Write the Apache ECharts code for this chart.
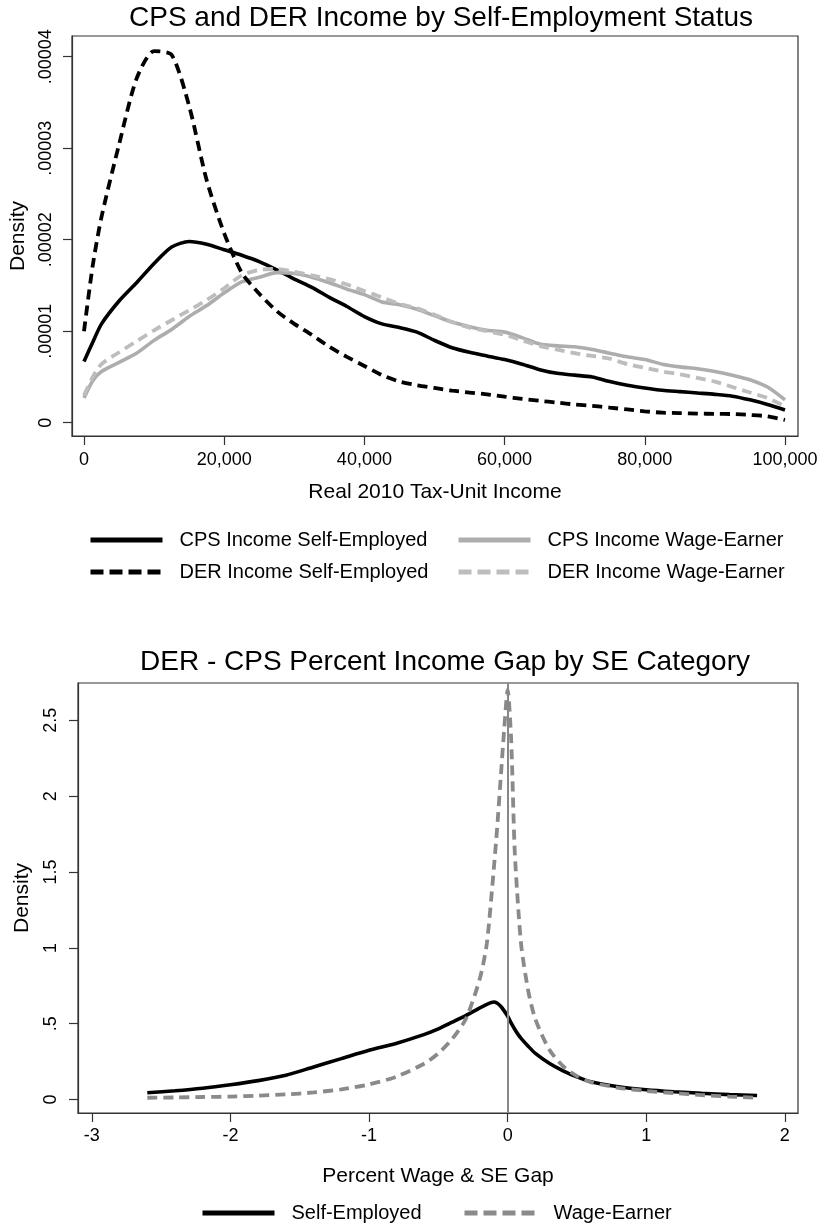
<!DOCTYPE html>
<html>
<head>
<meta charset="utf-8">
<script src="https://cdn.jsdelivr.net/npm/echarts@6/dist/echarts.min.js"></script>
<style>
html,body{margin:0;padding:0;background:#fff;}
#chart{width:827px;height:1230px;}
</style>
</head>
<body>
<div id="chart"></div>
<script>
// ---------- Top panel data ----------
const income = [0,1250,2500,5000,7500,10000,12500,15000,17500,20000,22500,25000,27500,30000,32500,35000,37500,40000,42500,45000,47500,50000,52500,55000,57500,60000,62500,65000,67500,70000,72500,75000,77500,80000,82500,85000,87500,90000,92500,95000,97500,100000];
const cpsSE = [0.67e-5,0.88e-5,1.08e-5,1.33e-5,1.53e-5,1.74e-5,1.92e-5,1.98e-5,1.95e-5,1.89e-5,1.83e-5,1.76e-5,1.67e-5,1.57e-5,1.48e-5,1.37e-5,1.27e-5,1.16e-5,1.08e-5,1.04e-5,0.99e-5,0.90e-5,0.82e-5,0.77e-5,0.73e-5,0.69e-5,0.64e-5,0.58e-5,0.54e-5,0.52e-5,0.50e-5,0.45e-5,0.41e-5,0.38e-5,0.355e-5,0.34e-5,0.325e-5,0.31e-5,0.29e-5,0.25e-5,0.20e-5,0.14e-5];
const cpsWE = [0.27e-5,0.46e-5,0.56e-5,0.66e-5,0.76e-5,0.90e-5,1.02e-5,1.16e-5,1.28e-5,1.42e-5,1.54e-5,1.59e-5,1.64e-5,1.63e-5,1.59e-5,1.53e-5,1.46e-5,1.40e-5,1.32e-5,1.29e-5,1.24e-5,1.17e-5,1.10e-5,1.05e-5,1.01e-5,0.99e-5,0.93e-5,0.86e-5,0.84e-5,0.83e-5,0.80e-5,0.76e-5,0.72e-5,0.69e-5,0.64e-5,0.61e-5,0.59e-5,0.56e-5,0.52e-5,0.47e-5,0.39e-5,0.25e-5];
const derSE = [1.00e-5,1.72e-5,2.25e-5,3.04e-5,3.76e-5,4.06e-5,4.02e-5,3.46e-5,2.65e-5,2.07e-5,1.64e-5,1.41e-5,1.22e-5,1.08e-5,0.96e-5,0.83e-5,0.72e-5,0.62e-5,0.52e-5,0.45e-5,0.41e-5,0.38e-5,0.35e-5,0.33e-5,0.31e-5,0.285e-5,0.26e-5,0.24e-5,0.22e-5,0.20e-5,0.185e-5,0.165e-5,0.145e-5,0.125e-5,0.11e-5,0.105e-5,0.10e-5,0.097e-5,0.095e-5,0.085e-5,0.07e-5,0.03e-5];
const derWE = [0.30e-5,0.50e-5,0.64e-5,0.77e-5,0.89e-5,1.01e-5,1.12e-5,1.23e-5,1.34e-5,1.47e-5,1.61e-5,1.67e-5,1.68e-5,1.65e-5,1.61e-5,1.57e-5,1.51e-5,1.44e-5,1.37e-5,1.30e-5,1.25e-5,1.18e-5,1.10e-5,1.04e-5,1.00e-5,0.96e-5,0.90e-5,0.84e-5,0.80e-5,0.76e-5,0.73e-5,0.70e-5,0.64e-5,0.60e-5,0.56e-5,0.53e-5,0.49e-5,0.45e-5,0.39e-5,0.33e-5,0.27e-5,0.18e-5];
const incomeTicks = [0,20000,40000,60000,80000,100000];
const densTicksTop = [0,0.00001,0.00002,0.00003,0.00004];

// ---------- Bottom panel data ----------
const gapX = [-2.6,-2.4,-2.2,-2.0,-1.8,-1.6,-1.4,-1.2,-1.0,-0.8,-0.6,-0.5,-0.4,-0.3,-0.2,-0.15,-0.1,-0.075,-0.05,-0.025,0,0.025,0.05,0.075,0.1,0.15,0.2,0.3,0.4,0.5,0.6,0.8,1.0,1.2,1.4,1.6,1.8];
const gapSE = [0.045,0.058,0.075,0.098,0.125,0.16,0.215,0.27,0.325,0.372,0.43,0.466,0.51,0.555,0.605,0.628,0.643,0.635,0.615,0.585,0.55,0.505,0.465,0.43,0.40,0.35,0.305,0.24,0.19,0.15,0.118,0.085,0.065,0.052,0.042,0.033,0.027];
const gapWE = [0.012,0.014,0.017,0.02,0.026,0.034,0.047,0.068,0.10,0.152,0.238,0.305,0.40,0.535,0.80,1.03,1.52,1.80,2.12,2.44,2.70,2.38,1.66,1.28,1.00,0.71,0.53,0.33,0.22,0.155,0.115,0.078,0.057,0.043,0.03,0.02,0.012];
const gapTicks = [-3,-2,-1,0,1,2];
const densTicksBot = [0,0.5,1,1.5,2,2.5];

const FONT = '"Liberation Sans", Arial, Helvetica, sans-serif';
const AX = '#333';

function commaFmt(v){ return String(Math.round(v)).replace(/\B(?=(\d{3})+(?!\d))/g, ','); }
function topDensFmt(v){ return v === 0 ? '0' : v.toFixed(5).replace(/^0/, ''); }
function botDensFmt(v){ return v === 0 ? '0' : String(v).replace(/^0\./, '.'); }

function xAxisCfg(grid, min, max, ticks, fmt, name, margin, nameGap){
  return {
    gridIndex: grid, type: 'value', min: min, max: max,
    axisLine: {show: true, onZero: false, lineStyle: {color: AX, width: 1.2}},
    axisTick: {show: true, length: 9, inside: false, customValues: ticks, lineStyle: {color: AX, width: 1.2}},
    axisLabel: {customValues: ticks, formatter: fmt, fontSize: 18, color: '#000', margin: margin, fontFamily: FONT},
    splitLine: {show: false},
    name: name, nameLocation: 'middle', nameGap: nameGap,
    nameTextStyle: {fontSize: 21, color: '#000', fontFamily: FONT}
  };
}
function yAxisCfg(grid, min, max, ticks, fmt, margin, nameGap){
  return {
    gridIndex: grid, type: 'value', min: min, max: max,
    axisLine: {show: true, onZero: false, lineStyle: {color: AX, width: 1.2}},
    axisTick: {show: true, length: 9, inside: false, customValues: ticks, lineStyle: {color: AX, width: 1.2}},
    axisLabel: {customValues: ticks, formatter: fmt, fontSize: 18, color: '#000', margin: margin, rotate: 90, fontFamily: FONT},
    splitLine: {show: false},
    name: 'Density', nameLocation: 'middle', nameGap: nameGap, nameRotate: 90,
    nameTextStyle: {fontSize: 21, color: '#000', fontFamily: FONT}
  };
}
function pairs(xs, ys){ return xs.map((x, i) => [x, ys[i]]); }
function lineSeries(name, xi, xs, ys, color, type, width){
  return {
    name: name, type: 'line', xAxisIndex: xi, yAxisIndex: xi,
    data: pairs(xs, ys), symbol: 'none', showSymbol: false, smooth: 0.25,
    lineStyle: {color: color, width: width, type: type, cap: 'butt'},
    itemStyle: {color: color}, emphasis: {disabled: true}, silent: true
  };
}
function legendItem(name, left, top, dashed){
  return {
    data: [name], left: left, top: top,
    orient: 'horizontal', itemWidth: 72, itemHeight: 14, padding: 0, selectedMode: false,
    itemStyle: {opacity: 0, borderWidth: 0},
    lineStyle: dashed ? {width: 5, type: [13, 6], cap: 'butt'} : {width: 5, type: 'solid', cap: 'butt'},
    textStyle: {fontSize: 20, color: '#000', fontFamily: FONT, padding: [0, 0, 0, 12]}
  };
}

const seSeries = lineSeries('Self-Employed', 1, gapX, gapSE, '#000', 'solid', 3.6);
seSeries.markLine = {
  silent: true, symbol: 'none', label: {show: false},
  lineStyle: {color: '#888', width: 2, type: 'solid'},
  data: [{xAxis: 0}]
};

const option = {
  animation: false,
  backgroundColor: '#fff',
  textStyle: {fontFamily: FONT},
  title: [
    {text: 'CPS and DER Income by Self-Employment Status', left: 436, top: -1, textAlign: 'center',
     textStyle: {fontSize: 28, fontWeight: 'normal', color: '#000', fontFamily: FONT}},
    {text: 'DER - CPS Percent Income Gap by SE Category', left: 440, top: 643, textAlign: 'center',
     textStyle: {fontSize: 28, fontWeight: 'normal', color: '#000', fontFamily: FONT}}
  ],
  grid: [
    {left: 72, top: 36, width: 726, height: 400, show: true, borderColor: AX, borderWidth: 1.2, backgroundColor: 'transparent', containLabel: false},
    {left: 78, top: 683, width: 720, height: 430, show: true, borderColor: AX, borderWidth: 1.2, backgroundColor: 'transparent', containLabel: false}
  ],
  xAxis: [
    xAxisCfg(0, -1712, 101855, incomeTicks, commaFmt, 'Real 2010 Tax-Unit Income', 15, 46),
    xAxisCfg(1, -3.1, 2.095, gapTicks, v => String(v), 'Percent Wage & SE Gap', 14, 53)
  ],
  yAxis: [
    yAxisCfg(0, -0.145e-5, 4.226e-5, densTicksTop, topDensFmt, 17, 40),
    yAxisCfg(1, -0.0884, 2.746, densTicksBot, botDensFmt, 18, 45)
  ],
  legend: [
    legendItem('CPS Income Self-Employed', 88, 530, false),
    legendItem('CPS Income Wage-Earner', 456, 530, false),
    legendItem('DER Income Self-Employed', 88, 562, true),
    legendItem('DER Income Wage-Earner', 456, 562, true),
    legendItem('Self-Employed', 200, 1203, false),
    legendItem('Wage-Earner', 462, 1203, true)
  ],
  series: [
    lineSeries('CPS Income Self-Employed', 0, income, cpsSE, '#000', 'solid', 3.6),
    lineSeries('CPS Income Wage-Earner', 0, income, cpsWE, '#adadad', 'solid', 3.6),
    lineSeries('DER Income Self-Employed', 0, income, derSE, '#000', [10, 6], 3.8),
    lineSeries('DER Income Wage-Earner', 0, income, derWE, '#bdbdbd', [10, 6], 3.8),
    seSeries,
    lineSeries('Wage-Earner', 1, gapX, gapWE, '#8a8a8a', [10, 6], 3.8)
  ]
};

const chart = echarts.init(document.getElementById('chart'), null, {renderer: 'canvas'});
chart.setOption(option);
</script>
</body>
</html>
